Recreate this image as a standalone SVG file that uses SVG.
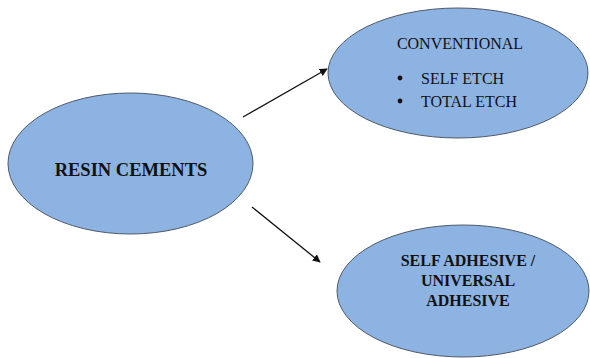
<svg xmlns="http://www.w3.org/2000/svg" width="590" height="358" viewBox="0 0 590 358">
<style>
.node ellipse{fill:#8db3e2;stroke:#505a68;stroke-width:1}
text{font-family:"Liberation Serif","Times New Roman",serif;fill:#111}
.b{font-weight:bold}
.c{stroke:#111;stroke-width:1.3;fill:none}
</style>
<defs>
<marker id="ah" viewBox="0 0 10 10" refX="9" refY="5" markerWidth="8" markerHeight="8" markerUnits="userSpaceOnUse" orient="auto">
<path d="M0,0 L10,5 L0,10 z" fill="#111"/>
</marker>
</defs>
<g id="resin" class="node">
<ellipse cx="130.5" cy="163.5" rx="122.5" ry="70.5"/>
<text class="b" x="131" y="176" font-size="18.5" text-anchor="middle">RESIN CEMENTS</text>
</g>
<g id="conventional" class="node">
<ellipse cx="458" cy="73" rx="130" ry="65"/>
<text x="460" y="49" font-size="16" text-anchor="middle">CONVENTIONAL</text>
<circle cx="400" cy="78" r="2.4" fill="#111"/>
<text x="421" y="83.5" font-size="16">SELF ETCH</text>
<circle cx="400" cy="101" r="2.4" fill="#111"/>
<text x="421" y="106.5" font-size="16">TOTAL ETCH</text>
</g>
<g id="selfadhesive" class="node">
<ellipse cx="463" cy="291" rx="126" ry="66"/>
<text class="b" x="468" y="266" font-size="16" text-anchor="middle">SELF ADHESIVE /</text>
<text class="b" x="468" y="286" font-size="16" text-anchor="middle">UNIVERSAL</text>
<text class="b" x="468" y="306" font-size="16" text-anchor="middle">ADHESIVE</text>
</g>
<g id="connectors">
<line class="c" x1="243" y1="117" x2="327" y2="69" marker-end="url(#ah)"/>
<line class="c" x1="252" y1="207" x2="320" y2="262" marker-end="url(#ah)"/>
</g>
</svg>
